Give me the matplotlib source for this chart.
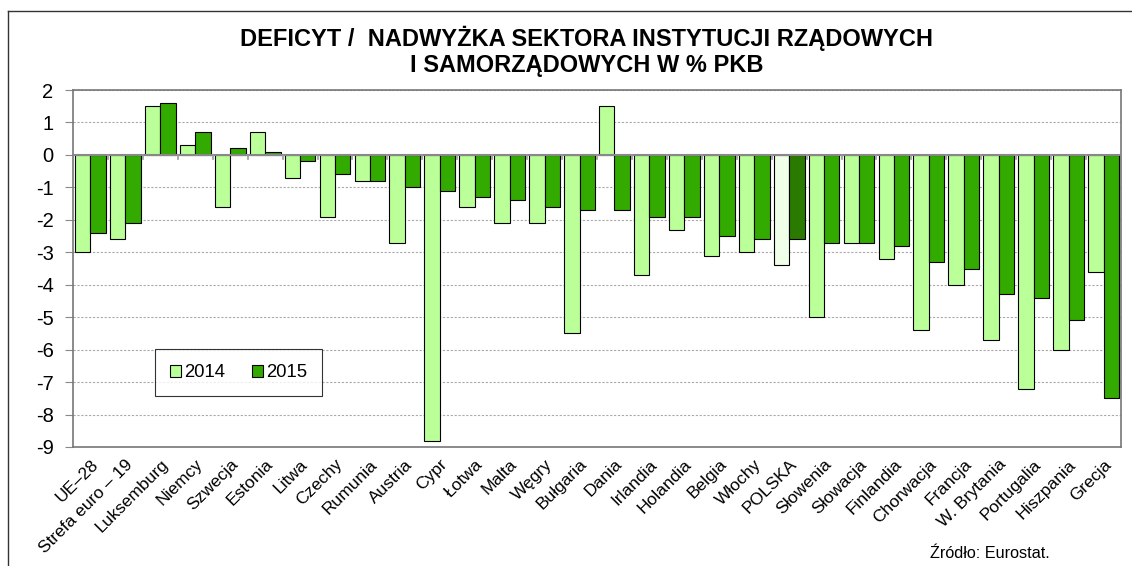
import numpy as np
import matplotlib.pyplot as plt

plt.rcParams['font.family'] = ['Liberation Sans', 'DejaVu Sans']

kraje = ['UE\u201328', 'Strefa euro \u2013 19', 'Luksemburg', 'Niemcy', 'Szwecja', 'Estonia',
         'Litwa', 'Czechy', 'Rumunia', 'Austria', 'Cypr', '\u0141otwa', 'Malta', 'W\u0119gry',
         'Bu\u0142garia', 'Dania', 'Irlandia', 'Holandia', 'Belgia', 'W\u0142ochy', 'POLSKA',
         'S\u0142owenia', 'S\u0142owacja', 'Finlandia', 'Chorwacja', 'Francja', 'W. Brytania',
         'Portugalia', 'Hiszpania', 'Grecja']

r2014 = [-3.0, -2.6, 1.5, 0.3, -1.6, 0.7, -0.7, -1.9, -0.8, -2.7, -8.8, -1.6, -2.1, -2.1,
         -5.5, 1.5, -3.7, -2.3, -3.1, -3.0, -3.4, -5.0, -2.7, -3.2, -5.4, -4.0, -5.7,
         -7.2, -6.0, -3.6]
r2015 = [-2.4, -2.1, 1.6, 0.7, 0.2, 0.1, -0.2, -0.6, -0.8, -1.0, -1.1, -1.3, -1.4, -1.6,
         -1.7, -1.7, -1.9, -1.9, -2.5, -2.6, -2.6, -2.7, -2.7, -2.8, -3.3, -3.5, -4.3,
         -4.4, -5.1, -7.5]
lata = ['2014', '2015']

jasny, ciemny = '#bbff99', '#33aa00'
pl_jasny, pl_ciemny = '#f0ffe8', '#2a7a00'

fig = plt.figure(figsize=(11.32, 5.66), dpi=100)
ax = fig.add_axes([73 / 1132, 1 - 447 / 566, 1048 / 1132, 357 / 566])

x = np.arange(len(kraje))
w = 0.44
kol1 = [pl_jasny if k == 'POLSKA' else jasny for k in kraje]
kol2 = [pl_ciemny if k == 'POLSKA' else ciemny for k in kraje]
ax.bar(x - w / 2, r2014, w, color=kol1, edgecolor='black', linewidth=0.8, zorder=3, label=lata[0])
ax.bar(x + w / 2, r2015, w, color=kol2, edgecolor='black', linewidth=0.8, zorder=3, label=lata[1])

ax.set_xlim(-0.5, len(kraje) - 0.5)
ax.set_ylim(-9, 2)
ax.set_yticks(range(-9, 3))
ax.set_yticklabels([str(v) for v in range(-9, 3)], fontsize=14.5)
ax.yaxis.grid(True, color='#aaaaaa', linestyle=(0, (2, 1.5)), linewidth=0.8, zorder=0)
ax.tick_params(axis='y', length=6, color='#888888', pad=8)

for s in ax.spines.values():
    s.set_color('#777777')
    s.set_linewidth(1.2)

# os zero z kreskami miedzy grupami
ax.axhline(0, color='#888888', linewidth=1.5, zorder=4)
for xb in np.arange(0.5, len(kraje) - 0.5):
    ax.plot([xb, xb], [0, -0.12], color='#999999', linewidth=1.2, zorder=4)

ax.set_xticks(x)
ax.set_xticklabels(kraje, rotation=45, ha='right', rotation_mode='anchor', fontsize=12.5)
ax.tick_params(axis='x', length=0, pad=7)

leg = ax.legend(loc='lower left', bbox_to_anchor=(0.078, 0.143, 0.16, 0.129), mode='expand',
                ncol=2, fontsize=13.3, frameon=True, fancybox=False, edgecolor='black',
                handlelength=0.6, handleheight=0.6, handletextpad=0.2, columnspacing=1.2,
                borderaxespad=0, borderpad=0.8)
leg.get_frame().set_linewidth(0.8)
for h, c in zip(leg.legend_handles, [jasny, ciemny]):
    h.set_facecolor(c)

fig.text(0.518, 0.933, 'DEFICYT /  NADWY\u017bKA SEKTORA INSTYTUCJI RZ\u0104DOWYCH',
         ha='center', va='center', fontsize=17, fontweight='bold')
fig.text(0.518, 0.885, 'I SAMORZ\u0104DOWYCH W % PKB',
         ha='center', va='center', fontsize=17, fontweight='bold')
fig.text(0.927, 0.022, '\u0179r\u00f3d\u0142o: Eurostat.', ha='right', va='center', fontsize=11.7)

# ramka wykresu (lewa i gorna krawedz)
fig.add_artist(plt.Line2D([8 / 1132, 8 / 1132], [0, 1 - 11 / 566], color='#333333', linewidth=1))
fig.add_artist(plt.Line2D([8 / 1132, 1], [1 - 11 / 566, 1 - 11 / 566], color='#333333', linewidth=1))

fig.savefig('out.png', dpi=100)
